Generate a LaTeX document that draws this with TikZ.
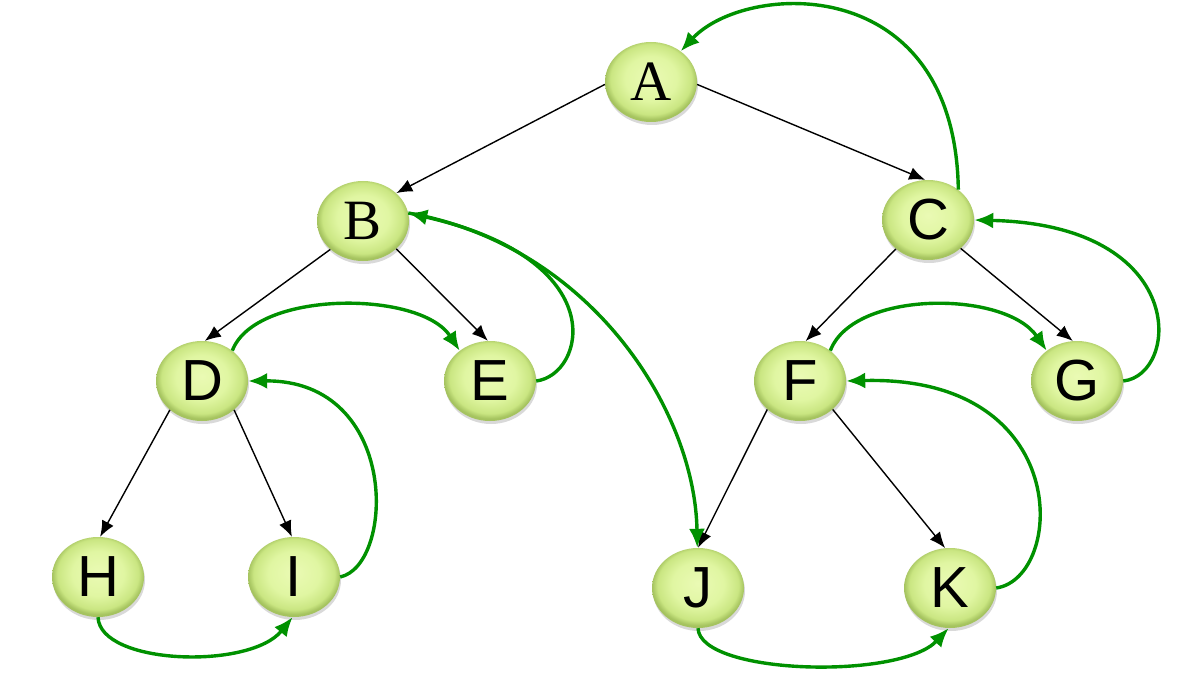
\documentclass[tikz,border=0pt]{standalone}
\usepackage{fontspec}
\setmainfont{Liberation Serif}
\newfontfamily\arialf{Liberation Sans}
\usetikzlibrary{shapes.geometric,shadows,arrows.meta}
\definecolor{nlight}{RGB}{234,250,180}
\definecolor{nmid}{RGB}{224,246,162}
\definecolor{nedge}{RGB}{202,230,130}
\definecolor{ndark}{RGB}{165,195,95}
\definecolor{grn}{RGB}{0,145,0}
\pgfdeclareradialshading{ballgreen}{\pgfpoint{0bp}{3bp}}{color(0bp)=(nlight); color(14bp)=(nmid); color(22bp)=(nedge); color(25bp)=(ndark); color(50bp)=(ndark)}
\begin{document}
\begin{tikzpicture}[x=1pt,y=-1pt,
  vtx/.style={ellipse, minimum width=92pt, minimum height=80pt, inner sep=0pt,
    shading=ballgreen, drop shadow={shadow xshift=1pt, shadow yshift=-3pt, opacity=0.3},
    font=\arialf\fontsize{58}{58}\selectfont},
  svtx/.style={vtx, font=\rmfamily\fontsize{57}{57}\selectfont},
  blk/.style={draw=black, line width=1.4pt, -{Latex[length=16pt,width=13pt]}},
  gar/.style={draw=grn, line width=3.4pt, -{Latex[length=19pt,width=16pt]}}]
\useasboundingbox (0,0) rectangle (1187,690);
\node[svtx] (A) at (651,82) {A};
\node[svtx] (B) at (363,221) {B};
\node[vtx] (C) at (928,220) {C};
\node[vtx] (D) at (202,381) {D};
\node[vtx] (E) at (490,381) {E};
\node[vtx] (F) at (800,381) {F};
\node[vtx] (G) at (1077,381) {G};
\node[vtx] (H) at (98,577) {H};
\node[vtx] (I) at (294,577) {I};
\node[vtx] (J) at (698,588) {J};
\node[vtx] (K) at (950,588) {K};
% tree edges
\draw[blk] (A.183) -- (B.40);
\draw[blk] (A.-3) -- (C.94);
\draw[blk] (B.221) -- (D.86);
\draw[blk] (B.-40) -- (E.93);
\draw[blk] (C.222) -- (F.82);
\draw[blk] (C.-41) -- (G.96);
\draw[blk] (D.222) -- (H.87);
\draw[blk] (D.-42) -- (I.93);
\draw[blk] (F.221) -- (J.90);
\draw[blk] (F.-41) -- (K.97);
% threads
\draw[gar] (C.45) .. controls (955,-30) and (745,-18) .. (A.46);
\draw[gar] (G.0) .. controls (1180,375) and (1190,225) .. (C.0);
\draw[gar] (D.45) .. controls (255,290) and (420,290) .. (E.135);
\draw[gar] (I.0) .. controls (395,565) and (400,380) .. (D.0);
\draw[gar] (H.270) .. controls (100,665) and (250,670) .. (I.268);
\draw[gar] (E.0) .. controls (585,375) and (615,260) .. (B.10);
\draw[gar] (B.10) .. controls (590,245) and (695,410) .. (J.91);
\draw[gar] (F.45) .. controls (853,290) and (1005,290) .. (G.135);
\draw[gar] (K.0) .. controls (1065,578) and (1075,375) .. (F.0);
\draw[gar] (J.270) .. controls (700,675) and (900,680) .. (K.268);
\end{tikzpicture}
\end{document}
